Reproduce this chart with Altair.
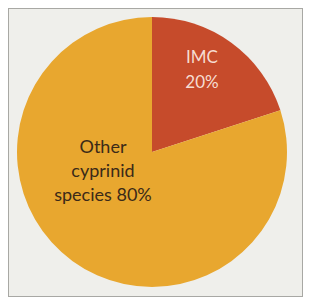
import altair as alt
import pandas as pd

categories = ["IMC", "Other cyprinid species"]
shares = [20, 80]
colors = ["#c64b2b", "#e8a72f"]
label_lines = [["IMC", "20%"], ["Other", "cyprinid", "species 80%"]]
label_colors = ["#f6ddd2", "#3b2a18"]

df = pd.DataFrame({
    "category": categories,
    "share": shares,
    "order": list(range(len(categories))),
})

W, H = 295, 289
cx, cy = 144, 144
R = 135

base = alt.Chart(df)

pie = base.mark_arc(stroke=None).encode(
    theta=alt.Theta("share:Q", stack=True),
    order=alt.Order("order:Q"),
    color=alt.Color("category:N",
                    scale=alt.Scale(domain=categories, range=colors),
                    legend=None),
    x=alt.value(cx), y=alt.value(cy),
    radius=alt.value(R),
)

lbl_df = pd.DataFrame({
    "category": categories,
    "text": label_lines,
})

imc_text = alt.Chart(lbl_df).transform_filter(
    alt.datum.category == categories[0]
).mark_text(
    font="Lato", fontSize=17, lineHeight=25, align="center", baseline="middle",
    color=label_colors[0], dx=50, dy=-94
).encode(text="text", x=alt.value(cx), y=alt.value(cy))

other_text = alt.Chart(lbl_df).transform_filter(
    alt.datum.category == categories[1]
).mark_text(
    font="Lato", fontSize=18, lineHeight=24, align="center", baseline="middle",
    color=label_colors[1], dx=-49, dy=-4
).encode(text="text", x=alt.value(cx), y=alt.value(cy))

chart = alt.layer(pie, imc_text, other_text).properties(
    width=W, height=H,
    autosize=alt.AutoSizeParams(type="fit", contains="padding"),
    padding=0,
    background="#efefeb",
).configure_view(stroke="#a8a8a4", strokeWidth=2)

chart.save("out.html", embed_options={"renderer": "svg", "actions": False})
